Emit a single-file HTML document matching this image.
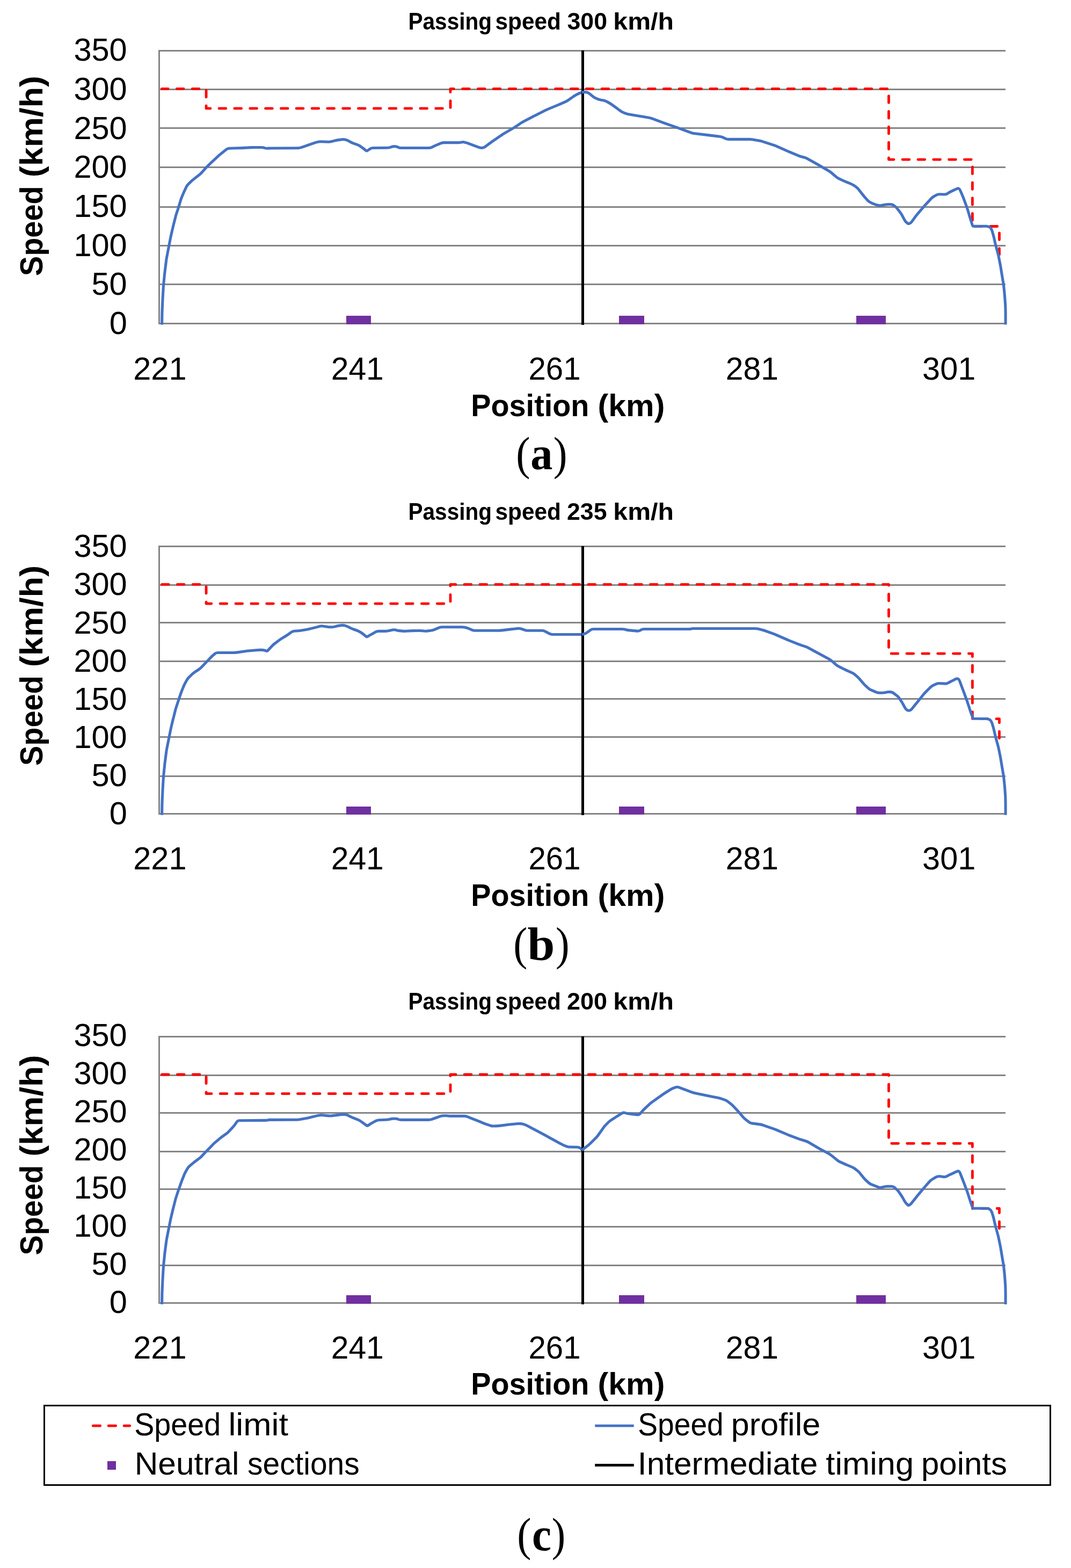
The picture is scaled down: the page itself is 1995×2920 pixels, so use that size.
<!DOCTYPE html>
<html lang="en"><head><meta charset="utf-8"><title>Speed profiles for different passing speeds</title>
<style>
html,body{margin:0;padding:0;background:#fff;}
body{width:1995px;height:2920px;overflow:hidden;}
svg{display:block;}
rect{shape-rendering:crispEdges;}
text{fill:#000;}
</style></head><body>
<svg width="1995" height="2920" viewBox="0 0 1995 2920">
<rect width="1995" height="2920" fill="#fff"/>
<rect x="295" y="93" width="1578" height="3" fill="#858585"/>
<rect x="295" y="165" width="1578" height="3" fill="#858585"/>
<rect x="295" y="237" width="1578" height="3" fill="#858585"/>
<rect x="295" y="310" width="1578" height="3" fill="#858585"/>
<rect x="295" y="384" width="1578" height="3" fill="#858585"/>
<rect x="295" y="456" width="1578" height="3" fill="#858585"/>
<rect x="295" y="528" width="1578" height="3" fill="#858585"/>
<rect x="295" y="601" width="1578" height="3" fill="#858585"/>
<rect x="295" y="93" width="3" height="511" fill="#858585"/>
<rect x="645" y="588" width="46" height="16" fill="#7030A0"/>
<rect x="1153" y="588" width="47" height="16" fill="#7030A0"/>
<rect x="1595" y="588" width="55" height="16" fill="#7030A0"/>
<polyline points="301.5,165.3 384.1,165.3 384.1,201.9 839.0,201.9 839.0,165.3 1655.5,165.3 1655.5,297.1 1811.4,297.1 1811.4,421.5 1861.5,421.5 1861.5,474.1" fill="none" stroke="#FF0000" stroke-width="4.8" stroke-dasharray="12.7 16.13" stroke-dashoffset="1" stroke-linecap="round" stroke-linejoin="round"/>
<path d="M301.6 604.6L301.9 584.9Q302.0 581.9 302.1 578.9L302.9 559.7Q303.0 556.7 303.2 553.7L304.3 534.5Q304.5 531.5 304.8 528.5L306.7 509.3Q307.0 506.3 307.4 503.3L309.8 484.1Q310.2 481.1 310.8 478.2L314.2 460.4Q314.8 457.5 315.4 454.6L317.7 442.5Q318.3 439.6 319.0 436.7L322.0 423.6Q322.7 420.7 323.4 417.8L327.1 403.4Q327.8 400.5 328.7 397.7L331.9 388.2Q332.8 385.4 333.7 382.5L336.4 373.2Q337.3 370.3 338.4 367.5L341.5 360.3Q342.6 357.5 343.9 354.8L347.3 347.7Q348.6 345.0 350.8 342.9L356.8 337.1Q359.0 335.0 361.4 333.2L370.7 326.0Q373.1 324.2 375.1 322.0L382.5 313.7Q384.5 311.5 386.7 309.4L393.6 302.7Q395.8 300.6 398.0 298.6L406.8 290.3Q409.0 288.3 411.4 286.4L421.7 278.3Q424.1 276.4 427.1 276.3L443.8 275.8Q446.8 275.7 449.8 275.6L468.4 274.6Q471.4 274.5 474.4 274.5L487.3 274.5Q490.3 274.5 492.4 275.4L492.9 275.5Q495.0 276.4 498.0 276.3L500.5 276.1Q503.5 276.0 506.5 276.0L555.3 275.7Q558.3 275.7 561.1 274.7L570.6 271.4Q573.4 270.4 576.2 269.4L587.2 265.7Q590.0 264.7 592.6 264.2L593.1 264.1Q595.7 263.7 598.7 263.8L611.6 264.2Q614.6 264.3 617.5 263.5L623.0 262.1Q625.9 261.3 628.9 260.9L637.1 259.8Q640.1 259.4 643.0 260.1L643.8 260.2Q646.7 260.9 649.3 262.4L653.5 264.7Q656.1 266.2 658.9 267.1L664.7 269.1Q667.5 270.0 670.0 271.7L672.5 273.4Q675.0 275.1 677.4 276.9L681.9 280.4Q683.1 281.3 684.4 280.5L689.5 277.1Q692.0 275.5 695.0 275.5L721.1 275.3Q724.1 275.3 726.9 274.3L728.9 273.6Q731.7 272.6 734.7 272.6L735.3 272.6Q738.3 272.6 740.9 273.9L741.4 274.2Q744.0 275.5 747.0 275.5L799.5 275.5Q802.5 275.5 805.1 274.1L808.4 272.3Q811.0 270.9 813.8 269.8L821.5 266.7Q824.3 265.6 827.3 265.6L853.4 265.6Q856.4 265.6 858.9 265.0L859.5 264.9Q862.0 264.3 864.6 264.8L865.1 264.9Q867.7 265.3 870.5 266.4L887.2 272.7Q890.0 273.8 892.6 274.6L893.1 274.7Q895.7 275.5 898.2 275.3L898.8 275.3Q901.3 275.1 903.7 273.3L912.2 266.9Q914.6 265.1 917.1 263.4L934.7 251.3Q937.2 249.6 939.8 248.1L957.3 237.9Q959.9 236.4 962.4 234.7L970.6 229.0Q973.1 227.3 975.8 225.9L991.2 217.9Q993.9 216.5 996.6 215.2L1015.8 205.5Q1018.5 204.2 1021.3 203.0L1038.3 196.0Q1041.1 194.8 1043.9 193.6L1053.5 189.4Q1056.3 188.2 1058.7 186.4L1067.1 180.5Q1069.5 178.7 1072.1 177.3L1076.3 175.0Q1078.9 173.6 1081.8 172.7L1085.5 171.6" fill="none" stroke="#4472C4" stroke-width="5.1" stroke-linejoin="round" stroke-linecap="butt"/>
<rect x="1083" y="94" width="5" height="511" fill="#000"/>
<path d="M1083.9 171.6L1091.0 171.6Q1094.0 171.6 1096.4 173.4L1097.3 174.1Q1099.7 175.9 1102.1 177.8L1104.9 180.0Q1107.3 181.9 1110.1 183.0L1113.9 184.6Q1116.7 185.7 1119.7 186.2L1123.2 186.7Q1126.2 187.2 1128.9 188.6L1132.9 190.6Q1135.6 192.0 1138.0 193.7L1146.4 199.7Q1148.8 201.4 1151.2 203.2L1155.9 206.6Q1158.3 208.4 1161.1 209.5L1164.9 211.1Q1167.7 212.2 1170.7 212.7L1187.0 215.5Q1190.0 216.0 1193.0 216.5L1207.8 218.9Q1210.8 219.4 1213.6 220.4L1234.4 228.2Q1237.2 229.2 1240.0 230.2L1262.8 238.2Q1265.6 239.2 1268.4 240.2L1287.3 247.1Q1290.1 248.1 1293.1 248.5L1319.2 251.6Q1322.2 252.0 1325.2 252.4L1341.0 254.3Q1344.0 254.7 1346.7 255.9L1351.7 258.2Q1354.4 259.4 1357.4 259.4L1396.7 259.4Q1399.7 259.4 1402.7 259.9L1415.6 262.3Q1418.6 262.8 1421.4 263.8L1442.3 270.7Q1445.1 271.7 1447.8 272.9L1465.0 280.5Q1467.7 281.7 1470.5 282.9L1487.2 289.9Q1490.0 291.1 1492.9 291.8L1498.4 293.3Q1501.3 294.0 1503.9 295.5L1521.4 305.3Q1524.0 306.8 1526.6 308.3L1544.1 318.5Q1546.7 320.0 1549.0 322.0L1557.6 329.4Q1559.9 331.4 1562.6 332.6L1570.4 336.2Q1573.1 337.4 1575.9 338.6L1585.4 342.5Q1588.2 343.7 1590.7 345.4L1593.3 347.1Q1595.8 348.8 1597.4 350.6L1597.8 350.9Q1599.4 352.7 1601.2 355.1L1607.1 362.6Q1608.9 365.0 1610.9 367.2L1616.3 373.2Q1618.3 375.4 1621.0 376.7L1625.1 378.8Q1627.8 380.1 1630.7 380.9L1635.3 382.2Q1638.2 383.0 1641.2 382.5L1649.3 381.0Q1652.3 380.5 1655.3 380.5L1658.8 380.5Q1661.8 380.5 1664.3 382.2L1666.9 384.1Q1669.4 385.8 1671.2 388.2L1677.0 395.7Q1678.8 398.1 1680.2 400.7L1685.0 409.7Q1686.4 412.3 1688.7 414.2L1690.9 416.0Q1692.0 417.0 1693.4 416.4L1694.6 416.0Q1696.7 415.1 1698.5 412.7L1705.3 403.3Q1707.1 400.9 1709.0 398.6L1720.4 385.3Q1722.3 383.0 1724.4 380.8L1735.3 369.1Q1737.4 366.9 1740.0 365.5L1744.2 363.2Q1746.8 361.8 1749.8 361.8L1751.4 361.8Q1754.4 361.8 1757.4 362.0L1758.9 362.0Q1761.9 362.2 1764.5 360.7L1768.8 358.0Q1771.4 356.5 1774.1 355.3L1781.9 351.7Q1784.6 350.5 1785.9 351.1L1786.1 351.2Q1787.4 351.8 1788.6 354.5L1792.8 364.2Q1794.0 366.9 1795.0 369.7L1800.6 384.9Q1801.6 387.7 1802.5 390.6L1806.4 403.7Q1807.3 406.6 1808.2 409.5L1811.5 419.9Q1812.0 421.3 1813.5 421.3L1836.4 421.3Q1839.4 421.3 1841.7 422.2L1842.2 422.3Q1844.5 423.2 1845.9 425.4L1846.2 425.9Q1847.6 428.2 1848.4 431.1L1850.0 436.7Q1850.8 439.6 1851.5 442.5L1853.8 453.0Q1854.5 455.9 1855.3 458.8L1858.8 471.9Q1859.6 474.8 1860.2 477.7L1862.8 490.8Q1863.4 493.7 1863.9 496.7L1866.6 513.4Q1867.1 516.4 1867.6 519.4L1869.1 528.5Q1869.6 531.5 1869.9 534.5L1871.2 547.4Q1871.5 550.4 1871.7 553.4L1872.6 566.3Q1872.8 569.3 1872.9 572.3L1873.0 578.9Q1873.1 581.9 1873.1 584.9L1873.1 604.6" fill="none" stroke="#4472C4" stroke-width="5.1" stroke-linejoin="round" stroke-linecap="butt"/>
<text y="54.70" font-family="'Liberation Sans', sans-serif" font-size="45" font-weight="bold"><tspan x="760.46" textLength="155.58" lengthAdjust="spacingAndGlyphs">Passing</tspan> <tspan x="922.52" textLength="122.44" lengthAdjust="spacingAndGlyphs">speed</tspan> <tspan x="1056.48" textLength="74.54" lengthAdjust="spacingAndGlyphs">300</tspan> <tspan x="1142.32" textLength="112.62" lengthAdjust="spacingAndGlyphs">km/h</tspan></text>
<text y="113.10" font-family="'Liberation Sans', sans-serif" font-size="59.5" font-weight="normal"><tspan x="137.42" textLength="99.28" lengthAdjust="spacingAndGlyphs">350</tspan></text>
<text y="185.83" font-family="'Liberation Sans', sans-serif" font-size="59.5" font-weight="normal"><tspan x="137.42" textLength="99.28" lengthAdjust="spacingAndGlyphs">300</tspan></text>
<text y="258.56" font-family="'Liberation Sans', sans-serif" font-size="59.5" font-weight="normal"><tspan x="137.42" textLength="99.28" lengthAdjust="spacingAndGlyphs">250</tspan></text>
<text y="331.29" font-family="'Liberation Sans', sans-serif" font-size="59.5" font-weight="normal"><tspan x="137.42" textLength="99.28" lengthAdjust="spacingAndGlyphs">200</tspan></text>
<text y="404.01" font-family="'Liberation Sans', sans-serif" font-size="59.5" font-weight="normal"><tspan x="137.41" textLength="99.28" lengthAdjust="spacingAndGlyphs">150</tspan></text>
<text y="476.74" font-family="'Liberation Sans', sans-serif" font-size="59.5" font-weight="normal"><tspan x="137.41" textLength="99.28" lengthAdjust="spacingAndGlyphs">100</tspan></text>
<text y="549.47" font-family="'Liberation Sans', sans-serif" font-size="59.5" font-weight="normal"><tspan x="170.44" textLength="66.18" lengthAdjust="spacingAndGlyphs">50</tspan></text>
<text y="622.20" font-family="'Liberation Sans', sans-serif" font-size="59.5" font-weight="normal"><tspan x="203.76" textLength="33.09" lengthAdjust="spacingAndGlyphs">0</tspan></text>
<text y="707.30" font-family="'Liberation Sans', sans-serif" font-size="59.5" font-weight="normal"><tspan x="248.22" textLength="99.37" lengthAdjust="spacingAndGlyphs">221</tspan></text>
<text y="707.30" font-family="'Liberation Sans', sans-serif" font-size="59.5" font-weight="normal"><tspan x="616.66" textLength="98.20" lengthAdjust="spacingAndGlyphs">241</tspan></text>
<text y="707.30" font-family="'Liberation Sans', sans-serif" font-size="59.5" font-weight="normal"><tspan x="984.49" textLength="97.14" lengthAdjust="spacingAndGlyphs">261</tspan></text>
<text y="707.30" font-family="'Liberation Sans', sans-serif" font-size="59.5" font-weight="normal"><tspan x="1351.85" textLength="98.30" lengthAdjust="spacingAndGlyphs">281</tspan></text>
<text y="707.30" font-family="'Liberation Sans', sans-serif" font-size="59.5" font-weight="normal"><tspan x="1718.12" textLength="99.27" lengthAdjust="spacingAndGlyphs">301</tspan></text>
<text transform="translate(79.00 0) rotate(-90)" y="0" font-family="'Liberation Sans', sans-serif" font-size="58.5" font-weight="bold"><tspan x="-514.08" textLength="167.77" lengthAdjust="spacingAndGlyphs">Speed</tspan> <tspan x="-330.26" textLength="189.31" lengthAdjust="spacingAndGlyphs">(km/h)</tspan></text>
<text y="774.90" font-family="'Liberation Sans', sans-serif" font-size="58" font-weight="bold"><tspan x="877.17" textLength="220.35" lengthAdjust="spacingAndGlyphs">Position</tspan> <tspan x="1113.54" textLength="124.89" lengthAdjust="spacingAndGlyphs">(km)</tspan></text>
<text y="873.90" font-family="'Liberation Serif', serif" font-size="86"><tspan x="961.25" textLength="26.25" lengthAdjust="spacingAndGlyphs" font-weight="normal">(</tspan><tspan x="988.23" textLength="41.21" lengthAdjust="spacingAndGlyphs" font-weight="bold">a</tspan><tspan x="1030.68" textLength="25.75" lengthAdjust="spacingAndGlyphs" font-weight="normal">)</tspan></text>
<rect x="295" y="1016" width="1578" height="3" fill="#858585"/>
<rect x="295" y="1088" width="1578" height="3" fill="#858585"/>
<rect x="295" y="1158" width="1578" height="3" fill="#858585"/>
<rect x="295" y="1230" width="1578" height="3" fill="#858585"/>
<rect x="295" y="1300" width="1578" height="3" fill="#858585"/>
<rect x="295" y="1371" width="1578" height="3" fill="#858585"/>
<rect x="295" y="1444" width="1578" height="3" fill="#858585"/>
<rect x="295" y="1514" width="1578" height="3" fill="#858585"/>
<rect x="295" y="1016" width="3" height="501" fill="#858585"/>
<rect x="645" y="1502" width="46" height="15" fill="#7030A0"/>
<rect x="1153" y="1502" width="47" height="15" fill="#7030A0"/>
<rect x="1595" y="1502" width="55" height="15" fill="#7030A0"/>
<polyline points="301.5,1088.3 384.1,1088.3 384.1,1124.1 839.0,1124.1 839.0,1088.3 1655.5,1088.3 1655.5,1217.1 1811.4,1217.1 1811.4,1338.7 1861.5,1338.7 1861.5,1384.5" fill="none" stroke="#FF0000" stroke-width="4.8" stroke-dasharray="12.7 16.17" stroke-dashoffset="0" stroke-linecap="round" stroke-linejoin="round"/>
<path d="M301.6 1517.8L301.9 1498.6Q302.0 1495.6 302.1 1492.6L302.9 1474.0Q303.0 1471.0 303.2 1468.0L304.3 1449.3Q304.5 1446.3 304.8 1443.3L306.7 1424.7Q307.0 1421.7 307.4 1418.7L309.8 1400.0Q310.2 1397.0 310.8 1394.1L314.2 1376.9Q314.8 1374.0 315.4 1371.0L317.7 1359.4Q318.3 1356.5 319.0 1353.5L322.0 1340.9Q322.7 1338.0 323.5 1335.1L327.0 1321.1Q327.8 1318.2 328.8 1315.4L331.8 1306.3Q332.8 1303.5 333.7 1300.6L336.3 1292.9Q337.2 1290.1 338.3 1287.3L341.8 1278.7Q342.9 1275.9 344.3 1273.3L348.1 1266.3Q349.5 1263.7 351.7 1261.6L357.7 1255.7Q359.9 1253.6 362.4 1251.9L370.6 1246.5Q373.1 1244.8 375.2 1242.6L382.4 1235.1Q384.5 1232.9 386.6 1230.7L391.8 1225.2Q393.9 1223.0 396.1 1221.0L400.2 1217.5Q402.4 1215.5 405.4 1215.5L434.4 1215.5Q437.4 1215.5 440.4 1215.1L457.0 1212.7Q460.0 1212.3 463.0 1212.0L477.8 1210.7Q480.8 1210.4 483.8 1210.4L487.3 1210.4Q490.3 1210.4 493.2 1211.2L496.4 1212.2Q497.8 1212.6 498.8 1211.5L507.2 1202.6Q509.2 1200.4 511.6 1198.6L520.0 1192.3Q522.4 1190.5 525.0 1188.9L533.0 1184.0Q535.6 1182.4 538.0 1180.6L542.6 1177.2Q545.0 1175.4 548.0 1175.2L555.3 1174.7Q558.3 1174.5 561.3 1174.0L570.4 1172.5Q573.4 1172.0 576.3 1171.3L587.1 1168.6Q590.0 1167.9 592.9 1167.1L595.6 1166.2Q598.5 1165.4 601.4 1166.0L607.9 1167.1Q610.8 1167.7 613.8 1167.7L619.1 1167.7Q622.1 1167.7 624.9 1166.7L625.9 1166.4Q628.7 1165.4 631.7 1165.1L637.1 1164.4Q640.1 1164.1 642.9 1165.1L643.9 1165.4Q646.7 1166.4 649.4 1167.7L653.4 1169.8Q656.1 1171.1 658.9 1172.0L664.7 1174.0Q667.5 1174.9 670.0 1176.5L672.5 1178.0Q675.0 1179.6 677.3 1181.5L681.9 1185.3Q683.1 1186.2 684.4 1185.5L689.4 1182.6Q692.0 1181.1 694.6 1179.7L699.8 1176.8Q702.4 1175.4 705.4 1175.4L717.4 1175.4Q720.4 1175.4 723.3 1174.8L731.6 1173.0Q734.5 1172.4 737.4 1173.2L738.2 1173.5Q741.1 1174.3 744.1 1174.6L749.5 1175.1Q752.5 1175.4 755.5 1175.3L768.4 1174.6Q771.4 1174.5 774.4 1174.5L783.5 1174.5Q786.5 1174.5 789.1 1174.9L789.6 1175.0Q792.2 1175.4 795.2 1175.1L802.4 1174.2Q805.4 1173.9 808.2 1172.8L817.7 1168.8Q820.5 1167.7 823.5 1167.7L861.0 1167.7Q864.0 1167.7 866.9 1168.5L868.6 1169.0Q871.5 1169.8 874.3 1171.0L879.1 1173.1Q881.9 1174.3 884.9 1174.3L887.0 1174.3Q890.0 1174.3 893.0 1174.3L928.6 1174.3Q931.6 1174.3 934.6 1173.9L951.2 1171.9Q954.2 1171.5 957.2 1171.2L964.5 1170.4Q967.5 1170.1 970.0 1170.7L970.6 1170.9Q973.1 1171.5 975.9 1172.7L976.9 1173.1Q979.7 1174.3 982.7 1174.3L1009.8 1174.3Q1012.8 1174.3 1015.4 1175.7L1023.4 1180.1Q1026.0 1181.5 1029.0 1181.5L1085.5 1181.5" fill="none" stroke="#4472C4" stroke-width="5.1" stroke-linejoin="round" stroke-linecap="butt"/>
<rect x="1083" y="1017" width="5" height="501" fill="#000"/>
<path d="M1083.9 1181.5L1087.4 1180.7Q1090.3 1180.1 1092.8 1178.4L1100.0 1173.2Q1102.5 1171.5 1105.5 1171.5L1159.1 1171.5Q1162.1 1171.5 1164.6 1172.3L1165.2 1172.5Q1167.7 1173.3 1170.7 1173.6L1187.0 1175.1Q1190.0 1175.4 1192.6 1173.9L1194.0 1173.0Q1196.6 1171.5 1199.6 1171.5L1283.4 1171.5Q1286.4 1171.5 1287.2 1171.0L1287.4 1171.0Q1288.2 1170.5 1291.2 1170.5L1406.2 1170.5Q1409.2 1170.5 1412.1 1171.1L1417.6 1172.4Q1420.5 1173.0 1423.3 1174.0L1440.4 1180.1Q1443.2 1181.1 1445.9 1182.3L1465.0 1190.7Q1467.7 1191.9 1470.5 1193.0L1487.2 1199.6Q1490.0 1200.7 1492.8 1201.6L1500.4 1204.2Q1503.2 1205.1 1505.8 1206.5L1521.4 1215.0Q1524.0 1216.4 1526.6 1217.8L1544.1 1227.3Q1546.7 1228.7 1549.0 1230.7L1557.6 1238.0Q1559.9 1240.0 1562.6 1241.3L1570.4 1245.3Q1573.1 1246.6 1575.8 1247.8L1587.4 1253.0Q1590.1 1254.2 1592.3 1256.2L1597.4 1260.7Q1599.6 1262.7 1601.6 1265.0L1608.8 1273.3Q1610.8 1275.6 1613.0 1277.6L1618.0 1282.1Q1620.2 1284.1 1623.0 1285.2L1632.5 1289.2Q1635.3 1290.3 1638.3 1290.3L1643.7 1290.3Q1646.7 1290.3 1649.6 1289.6L1651.3 1289.1Q1654.2 1288.4 1657.2 1288.6L1658.8 1288.6Q1661.8 1288.8 1664.2 1290.6L1670.7 1295.5Q1673.1 1297.3 1674.8 1299.8L1679.0 1306.1Q1680.7 1308.6 1682.1 1311.2L1685.9 1318.3Q1687.3 1320.9 1689.4 1322.2L1689.9 1322.4Q1692.0 1323.7 1694.1 1323.1L1694.6 1323.0Q1696.7 1322.4 1698.6 1320.1L1705.2 1311.9Q1707.1 1309.6 1709.0 1307.3L1720.4 1293.0Q1722.3 1290.7 1724.4 1288.6L1733.4 1279.6Q1735.5 1277.5 1738.2 1276.3L1744.1 1273.6Q1746.8 1272.4 1749.8 1272.5L1751.4 1272.6Q1754.4 1272.7 1757.4 1272.9L1759.9 1273.1Q1762.9 1273.3 1765.6 1271.9L1770.6 1269.4Q1773.3 1268.0 1776.0 1266.7L1780.0 1264.6Q1782.7 1263.3 1784.4 1264.2L1784.8 1264.3Q1786.5 1265.2 1787.5 1268.0L1792.1 1280.3Q1793.1 1283.1 1794.2 1285.9L1800.5 1303.0Q1801.6 1305.8 1802.5 1308.7L1806.4 1320.8Q1807.3 1323.7 1808.3 1326.5L1812.1 1336.9Q1812.6 1338.3 1814.1 1338.3L1836.4 1338.5Q1839.4 1338.6 1841.7 1339.4L1842.2 1339.6Q1844.5 1340.4 1845.9 1342.6L1846.2 1343.1Q1847.6 1345.3 1848.4 1348.2L1850.0 1353.6Q1850.8 1356.5 1851.5 1359.4L1853.8 1369.5Q1854.5 1372.4 1855.3 1375.3L1858.8 1388.0Q1859.6 1390.9 1860.2 1393.8L1862.8 1406.4Q1863.4 1409.4 1863.9 1412.3L1866.6 1428.6Q1867.1 1431.6 1867.6 1434.5L1869.1 1443.4Q1869.6 1446.3 1869.9 1449.3L1871.2 1461.8Q1871.5 1464.8 1871.7 1467.8L1872.6 1480.3Q1872.8 1483.3 1872.9 1486.3L1873.0 1492.6Q1873.1 1495.6 1873.1 1498.6L1873.1 1517.8" fill="none" stroke="#4472C4" stroke-width="5.1" stroke-linejoin="round" stroke-linecap="butt"/>
<text y="967.80" font-family="'Liberation Sans', sans-serif" font-size="45" font-weight="bold"><tspan x="760.46" textLength="155.58" lengthAdjust="spacingAndGlyphs">Passing</tspan> <tspan x="922.52" textLength="122.44" lengthAdjust="spacingAndGlyphs">speed</tspan> <tspan x="1056.04" textLength="74.54" lengthAdjust="spacingAndGlyphs">235</tspan> <tspan x="1142.32" textLength="112.62" lengthAdjust="spacingAndGlyphs">km/h</tspan></text>
<text y="1037.30" font-family="'Liberation Sans', sans-serif" font-size="59.5" font-weight="normal"><tspan x="137.42" textLength="99.28" lengthAdjust="spacingAndGlyphs">350</tspan></text>
<text y="1108.43" font-family="'Liberation Sans', sans-serif" font-size="59.5" font-weight="normal"><tspan x="137.42" textLength="99.28" lengthAdjust="spacingAndGlyphs">300</tspan></text>
<text y="1179.56" font-family="'Liberation Sans', sans-serif" font-size="59.5" font-weight="normal"><tspan x="137.42" textLength="99.28" lengthAdjust="spacingAndGlyphs">250</tspan></text>
<text y="1250.69" font-family="'Liberation Sans', sans-serif" font-size="59.5" font-weight="normal"><tspan x="137.42" textLength="99.28" lengthAdjust="spacingAndGlyphs">200</tspan></text>
<text y="1321.81" font-family="'Liberation Sans', sans-serif" font-size="59.5" font-weight="normal"><tspan x="137.41" textLength="99.28" lengthAdjust="spacingAndGlyphs">150</tspan></text>
<text y="1392.94" font-family="'Liberation Sans', sans-serif" font-size="59.5" font-weight="normal"><tspan x="137.41" textLength="99.28" lengthAdjust="spacingAndGlyphs">100</tspan></text>
<text y="1464.07" font-family="'Liberation Sans', sans-serif" font-size="59.5" font-weight="normal"><tspan x="170.44" textLength="66.18" lengthAdjust="spacingAndGlyphs">50</tspan></text>
<text y="1535.20" font-family="'Liberation Sans', sans-serif" font-size="59.5" font-weight="normal"><tspan x="203.76" textLength="33.09" lengthAdjust="spacingAndGlyphs">0</tspan></text>
<text y="1619.30" font-family="'Liberation Sans', sans-serif" font-size="59.5" font-weight="normal"><tspan x="248.22" textLength="99.37" lengthAdjust="spacingAndGlyphs">221</tspan></text>
<text y="1619.30" font-family="'Liberation Sans', sans-serif" font-size="59.5" font-weight="normal"><tspan x="616.66" textLength="98.20" lengthAdjust="spacingAndGlyphs">241</tspan></text>
<text y="1619.30" font-family="'Liberation Sans', sans-serif" font-size="59.5" font-weight="normal"><tspan x="984.49" textLength="97.14" lengthAdjust="spacingAndGlyphs">261</tspan></text>
<text y="1619.30" font-family="'Liberation Sans', sans-serif" font-size="59.5" font-weight="normal"><tspan x="1351.85" textLength="98.30" lengthAdjust="spacingAndGlyphs">281</tspan></text>
<text y="1619.30" font-family="'Liberation Sans', sans-serif" font-size="59.5" font-weight="normal"><tspan x="1718.12" textLength="99.27" lengthAdjust="spacingAndGlyphs">301</tspan></text>
<text transform="translate(79.00 0) rotate(-90)" y="0" font-family="'Liberation Sans', sans-serif" font-size="58.5" font-weight="bold"><tspan x="-1425.98" textLength="167.77" lengthAdjust="spacingAndGlyphs">Speed</tspan> <tspan x="-1242.16" textLength="189.31" lengthAdjust="spacingAndGlyphs">(km/h)</tspan></text>
<text y="1687.10" font-family="'Liberation Sans', sans-serif" font-size="58" font-weight="bold"><tspan x="877.17" textLength="220.35" lengthAdjust="spacingAndGlyphs">Position</tspan> <tspan x="1113.54" textLength="124.89" lengthAdjust="spacingAndGlyphs">(km)</tspan></text>
<text y="1787.00" font-family="'Liberation Serif', serif" font-size="86"><tspan x="956.37" textLength="26.12" lengthAdjust="spacingAndGlyphs" font-weight="normal">(</tspan><tspan x="982.43" textLength="50.83" lengthAdjust="spacingAndGlyphs" font-weight="bold">b</tspan><tspan x="1034.89" textLength="25.62" lengthAdjust="spacingAndGlyphs" font-weight="normal">)</tspan></text>
<rect x="295" y="1929" width="1578" height="3" fill="#858585"/>
<rect x="295" y="2001" width="1578" height="3" fill="#858585"/>
<rect x="295" y="2071" width="1578" height="3" fill="#858585"/>
<rect x="295" y="2143" width="1578" height="3" fill="#858585"/>
<rect x="295" y="2213" width="1578" height="3" fill="#858585"/>
<rect x="295" y="2283" width="1578" height="3" fill="#858585"/>
<rect x="295" y="2355" width="1578" height="3" fill="#858585"/>
<rect x="295" y="2425" width="1578" height="3" fill="#858585"/>
<rect x="295" y="1929" width="3" height="499" fill="#858585"/>
<rect x="645" y="2412" width="46" height="16" fill="#7030A0"/>
<rect x="1153" y="2412" width="47" height="16" fill="#7030A0"/>
<rect x="1595" y="2412" width="55" height="16" fill="#7030A0"/>
<polyline points="301.5,2001.0 384.1,2001.0 384.1,2036.7 839.0,2036.7 839.0,2001.0 1655.5,2001.0 1655.5,2129.3 1811.4,2129.3 1811.4,2250.5 1861.5,2250.5 1861.5,2296.1" fill="none" stroke="#FF0000" stroke-width="4.8" stroke-dasharray="12.7 16.17" stroke-dashoffset="0" stroke-linecap="round" stroke-linejoin="round"/>
<path d="M301.6 2428.9L301.9 2409.8Q302.0 2406.8 302.1 2403.8L302.9 2385.2Q303.0 2382.2 303.2 2379.2L304.3 2360.7Q304.5 2357.7 304.8 2354.7L306.7 2336.1Q307.0 2333.1 307.4 2330.2L309.8 2311.6Q310.2 2308.6 310.8 2305.7L314.2 2288.6Q314.8 2285.6 315.4 2282.7L317.7 2271.1Q318.3 2268.2 319.0 2265.3L322.0 2252.7Q322.7 2249.8 323.5 2246.9L327.0 2233.0Q327.8 2230.1 328.8 2227.3L331.8 2218.2Q332.8 2215.4 333.8 2212.6L337.2 2202.9Q338.2 2200.1 339.3 2197.3L342.7 2188.7Q343.8 2185.9 345.2 2183.3L349.1 2176.3Q350.5 2173.7 352.8 2171.8L359.5 2166.1Q361.8 2164.2 364.2 2162.4L370.7 2157.5Q373.1 2155.7 375.2 2153.6L382.4 2146.1Q384.5 2144.0 386.6 2141.8L395.6 2132.4Q397.7 2130.2 400.0 2128.2L408.6 2120.9Q410.9 2118.9 413.3 2117.1L421.7 2111.2Q424.1 2109.4 426.1 2107.2L433.5 2099.3Q435.5 2097.1 437.3 2094.7L441.2 2089.1Q443.0 2086.7 446.0 2086.7L494.8 2086.4Q497.8 2086.4 498.7 2086.0L498.8 2085.8Q499.7 2085.4 502.7 2085.4L553.4 2085.2Q556.4 2085.2 559.3 2084.6L570.5 2082.6Q573.4 2082.0 576.3 2081.3L587.1 2078.6Q590.0 2077.9 592.9 2077.3L594.7 2077.0Q597.6 2076.4 600.6 2076.7L611.6 2077.9Q614.6 2078.2 617.6 2077.9L624.8 2077.0Q627.8 2076.7 630.8 2076.3L634.2 2075.8Q637.2 2075.4 640.2 2075.4L641.8 2075.4Q644.8 2075.4 647.5 2076.8L653.4 2079.7Q656.1 2081.1 658.9 2082.2L666.6 2085.1Q669.4 2086.2 671.8 2088.0L682.9 2095.9Q684.1 2096.8 685.4 2096.0L691.4 2092.1Q693.9 2090.5 696.6 2089.2L700.7 2087.1Q703.4 2085.8 706.4 2085.7L719.3 2085.3Q722.3 2085.2 725.2 2084.5L726.9 2084.0Q729.8 2083.3 732.8 2083.3L736.3 2083.3Q739.3 2083.3 741.4 2084.2L741.9 2084.5Q744.0 2085.4 747.0 2085.4L798.6 2085.4Q801.6 2085.4 804.4 2084.4L808.2 2083.0Q811.0 2082.0 813.8 2081.0L820.5 2078.7Q823.3 2077.7 826.3 2077.7L830.7 2077.7Q833.7 2077.7 834.6 2078.0L834.7 2078.1Q835.6 2078.4 838.6 2078.4L864.7 2078.4Q867.7 2078.4 870.5 2079.5L876.3 2081.9Q879.1 2083.0 881.9 2084.1L887.2 2086.2Q890.0 2087.3 892.8 2088.4L902.3 2092.3Q905.1 2093.4 908.0 2094.3L913.6 2096.2Q916.5 2097.1 919.5 2097.0L924.8 2096.9Q927.8 2096.8 930.8 2096.4L943.7 2094.7Q946.7 2094.3 949.7 2094.0L962.6 2092.7Q965.6 2092.4 968.6 2092.6L970.1 2092.6Q973.1 2092.8 975.9 2093.8L976.9 2094.2Q979.7 2095.2 982.4 2096.6L993.1 2102.3Q995.8 2103.7 998.5 2105.1L1015.8 2114.3Q1018.5 2115.7 1021.1 2117.2L1038.5 2126.8Q1041.1 2128.3 1043.8 2129.6L1047.9 2131.7Q1050.6 2133.0 1053.4 2134.1L1055.3 2134.8Q1058.1 2135.9 1061.1 2136.0L1075.9 2136.3Q1078.9 2136.4 1081.2 2138.4L1085.5 2142.1" fill="none" stroke="#4472C4" stroke-width="5.1" stroke-linejoin="round" stroke-linecap="butt"/>
<rect x="1083" y="1930" width="5" height="499" fill="#000"/>
<path d="M1083.9 2142.1L1095.4 2133.0Q1097.8 2131.1 1099.9 2129.0L1110.8 2118.1Q1112.9 2116.0 1114.6 2113.5L1124.5 2099.6Q1126.2 2097.1 1128.3 2095.0L1133.5 2089.8Q1135.6 2087.7 1138.1 2086.1L1146.3 2080.8Q1148.8 2079.2 1151.4 2077.6L1158.5 2073.2Q1161.1 2071.6 1164.0 2072.4L1166.7 2073.1Q1169.6 2073.9 1172.6 2074.3L1187.0 2076.0Q1190.0 2076.4 1192.0 2074.2L1197.4 2068.2Q1199.4 2066.0 1201.6 2064.0L1210.5 2055.7Q1212.7 2053.7 1215.1 2052.0L1232.9 2039.3Q1235.3 2037.6 1237.8 2036.0L1249.8 2028.5Q1252.3 2026.9 1255.2 2026.0L1258.9 2024.7Q1261.8 2023.8 1264.6 2024.9L1270.3 2027.1Q1273.1 2028.2 1275.9 2029.2L1289.2 2034.2Q1292.0 2035.2 1294.9 2035.8L1319.3 2040.8Q1322.2 2041.4 1325.1 2042.0L1338.2 2044.6Q1341.1 2045.2 1343.9 2046.1L1349.7 2048.1Q1352.5 2049.0 1354.9 2050.8L1361.4 2055.7Q1363.8 2057.5 1365.8 2059.7L1373.1 2067.5Q1375.1 2069.7 1377.1 2072.0L1384.5 2080.7Q1386.5 2083.0 1388.9 2084.8L1395.4 2089.7Q1397.8 2091.5 1400.8 2091.9L1415.6 2093.9Q1418.6 2094.3 1421.4 2095.3L1442.3 2102.7Q1445.1 2103.7 1447.9 2104.9L1464.9 2112.0Q1467.7 2113.2 1470.5 2114.3L1487.2 2120.6Q1490.0 2121.7 1492.9 2122.5L1500.3 2124.7Q1503.2 2125.5 1505.8 2127.0L1521.4 2136.3Q1524.0 2137.8 1526.6 2139.2L1544.1 2148.6Q1546.7 2150.0 1549.0 2151.9L1559.5 2160.4Q1561.8 2162.3 1564.5 2163.6L1572.3 2167.1Q1575.0 2168.4 1577.8 2169.5L1587.3 2173.5Q1590.1 2174.6 1592.5 2176.4L1597.0 2180.0Q1599.4 2181.8 1601.3 2184.1L1608.9 2193.7Q1610.8 2196.0 1613.0 2198.0L1618.0 2202.5Q1620.2 2204.5 1623.0 2205.6L1626.9 2207.1Q1629.7 2208.2 1632.5 2209.3L1636.3 2210.9Q1639.1 2212.0 1642.0 2211.3L1647.6 2209.9Q1650.5 2209.2 1653.5 2209.2L1660.7 2209.2Q1663.7 2209.2 1665.9 2211.2L1670.9 2215.7Q1673.1 2217.7 1674.8 2220.2L1679.0 2226.5Q1680.7 2229.0 1682.1 2231.6L1685.0 2236.8Q1686.4 2239.4 1688.5 2241.5L1690.9 2244.0Q1692.0 2245.1 1693.3 2244.3L1694.6 2243.6Q1696.7 2242.3 1698.5 2239.9L1705.3 2231.4Q1707.1 2229.0 1709.0 2226.7L1718.5 2215.3Q1720.4 2213.0 1722.4 2210.7L1731.6 2200.2Q1733.6 2197.9 1736.2 2196.4L1742.3 2192.7Q1744.9 2191.2 1747.5 2190.8L1748.0 2190.7Q1750.6 2190.3 1753.5 2190.9L1757.1 2191.6Q1760.0 2192.2 1762.7 2190.9L1768.7 2187.8Q1771.4 2186.5 1774.1 2185.3L1781.9 2181.7Q1784.6 2180.5 1785.9 2181.1L1786.1 2181.2Q1787.4 2181.8 1788.5 2184.6L1792.9 2196.0Q1794.0 2198.8 1795.1 2201.6L1800.5 2215.8Q1801.6 2218.6 1802.5 2221.5L1806.4 2233.7Q1807.3 2236.6 1808.3 2239.4L1811.5 2248.8Q1812.0 2250.2 1813.5 2250.2L1836.4 2250.3Q1839.4 2250.4 1841.7 2251.2L1842.2 2251.4Q1844.5 2252.2 1845.9 2254.4L1846.2 2254.9Q1847.6 2257.1 1848.4 2260.0L1850.0 2265.3Q1850.8 2268.2 1851.5 2271.1L1853.8 2281.1Q1854.5 2284.1 1855.3 2286.9L1858.8 2299.6Q1859.6 2302.5 1860.2 2305.4L1862.8 2317.9Q1863.4 2320.9 1863.9 2323.8L1866.6 2340.0Q1867.1 2343.0 1867.6 2345.9L1869.1 2354.7Q1869.6 2357.7 1869.9 2360.7L1871.2 2373.1Q1871.5 2376.1 1871.7 2379.1L1872.6 2391.5Q1872.8 2394.5 1872.9 2397.5L1873.0 2403.8Q1873.1 2406.8 1873.1 2409.8L1873.1 2428.9" fill="none" stroke="#4472C4" stroke-width="5.1" stroke-linejoin="round" stroke-linecap="butt"/>
<text y="1879.80" font-family="'Liberation Sans', sans-serif" font-size="45" font-weight="bold"><tspan x="760.46" textLength="155.58" lengthAdjust="spacingAndGlyphs">Passing</tspan> <tspan x="922.52" textLength="122.44" lengthAdjust="spacingAndGlyphs">speed</tspan> <tspan x="1056.03" textLength="75.00" lengthAdjust="spacingAndGlyphs">200</tspan> <tspan x="1142.32" textLength="112.62" lengthAdjust="spacingAndGlyphs">km/h</tspan></text>
<text y="1948.00" font-family="'Liberation Sans', sans-serif" font-size="59.5" font-weight="normal"><tspan x="137.42" textLength="99.28" lengthAdjust="spacingAndGlyphs">350</tspan></text>
<text y="2019.03" font-family="'Liberation Sans', sans-serif" font-size="59.5" font-weight="normal"><tspan x="137.42" textLength="99.28" lengthAdjust="spacingAndGlyphs">300</tspan></text>
<text y="2090.06" font-family="'Liberation Sans', sans-serif" font-size="59.5" font-weight="normal"><tspan x="137.42" textLength="99.28" lengthAdjust="spacingAndGlyphs">250</tspan></text>
<text y="2161.09" font-family="'Liberation Sans', sans-serif" font-size="59.5" font-weight="normal"><tspan x="137.42" textLength="99.28" lengthAdjust="spacingAndGlyphs">200</tspan></text>
<text y="2232.11" font-family="'Liberation Sans', sans-serif" font-size="59.5" font-weight="normal"><tspan x="137.41" textLength="99.28" lengthAdjust="spacingAndGlyphs">150</tspan></text>
<text y="2303.14" font-family="'Liberation Sans', sans-serif" font-size="59.5" font-weight="normal"><tspan x="137.41" textLength="99.28" lengthAdjust="spacingAndGlyphs">100</tspan></text>
<text y="2374.17" font-family="'Liberation Sans', sans-serif" font-size="59.5" font-weight="normal"><tspan x="170.44" textLength="66.18" lengthAdjust="spacingAndGlyphs">50</tspan></text>
<text y="2445.20" font-family="'Liberation Sans', sans-serif" font-size="59.5" font-weight="normal"><tspan x="203.76" textLength="33.09" lengthAdjust="spacingAndGlyphs">0</tspan></text>
<text y="2530.10" font-family="'Liberation Sans', sans-serif" font-size="59.5" font-weight="normal"><tspan x="248.22" textLength="99.37" lengthAdjust="spacingAndGlyphs">221</tspan></text>
<text y="2530.10" font-family="'Liberation Sans', sans-serif" font-size="59.5" font-weight="normal"><tspan x="616.66" textLength="98.20" lengthAdjust="spacingAndGlyphs">241</tspan></text>
<text y="2530.10" font-family="'Liberation Sans', sans-serif" font-size="59.5" font-weight="normal"><tspan x="984.49" textLength="97.14" lengthAdjust="spacingAndGlyphs">261</tspan></text>
<text y="2530.10" font-family="'Liberation Sans', sans-serif" font-size="59.5" font-weight="normal"><tspan x="1351.85" textLength="98.30" lengthAdjust="spacingAndGlyphs">281</tspan></text>
<text y="2530.10" font-family="'Liberation Sans', sans-serif" font-size="59.5" font-weight="normal"><tspan x="1718.12" textLength="99.27" lengthAdjust="spacingAndGlyphs">301</tspan></text>
<text transform="translate(79.00 0) rotate(-90)" y="0" font-family="'Liberation Sans', sans-serif" font-size="58.5" font-weight="bold"><tspan x="-2337.58" textLength="167.77" lengthAdjust="spacingAndGlyphs">Speed</tspan> <tspan x="-2153.76" textLength="189.31" lengthAdjust="spacingAndGlyphs">(km/h)</tspan></text>
<text y="2597.10" font-family="'Liberation Sans', sans-serif" font-size="58" font-weight="bold"><tspan x="877.17" textLength="220.35" lengthAdjust="spacingAndGlyphs">Position</tspan> <tspan x="1113.54" textLength="124.89" lengthAdjust="spacingAndGlyphs">(km)</tspan></text>
<text y="2887.10" font-family="'Liberation Serif', serif" font-size="86"><tspan x="963.35" textLength="26.25" lengthAdjust="spacingAndGlyphs" font-weight="normal">(</tspan><tspan x="991.06" textLength="35.97" lengthAdjust="spacingAndGlyphs" font-weight="bold">c</tspan><tspan x="1027.70" textLength="25.49" lengthAdjust="spacingAndGlyphs" font-weight="normal">)</tspan></text>
<rect x="82.5" y="2617.5" width="1874" height="148" fill="none" stroke="#000" stroke-width="3"/>
<line x1="173.2" y1="2655.2" x2="241.7" y2="2655.2" stroke="#FF0000" stroke-width="4.8" stroke-dasharray="13.5 15.45" stroke-linecap="round"/>
<rect x="200.1" y="2720.7" width="16.1" height="16.3" fill="#7030A0"/>
<line x1="1108.3" y1="2655.2" x2="1180.8" y2="2655.2" stroke="#4472C4" stroke-width="4.8"/>
<line x1="1108.3" y1="2728.5" x2="1180.8" y2="2728.5" stroke="#000" stroke-width="4.8"/>
<text y="2672.80" font-family="'Liberation Sans', sans-serif" font-size="59.5" font-weight="normal"><tspan x="250.20" textLength="160.91" lengthAdjust="spacingAndGlyphs">Speed</tspan> <tspan x="425.42" textLength="111.54" lengthAdjust="spacingAndGlyphs">limit</tspan></text>
<text y="2746.40" font-family="'Liberation Sans', sans-serif" font-size="59.5" font-weight="normal"><tspan x="250.67" textLength="194.78" lengthAdjust="spacingAndGlyphs">Neutral</tspan> <tspan x="461.09" textLength="208.60" lengthAdjust="spacingAndGlyphs">sections</tspan></text>
<text y="2672.80" font-family="'Liberation Sans', sans-serif" font-size="59.5" font-weight="normal"><tspan x="1188.22" textLength="159.56" lengthAdjust="spacingAndGlyphs">Speed</tspan> <tspan x="1361.83" textLength="166.44" lengthAdjust="spacingAndGlyphs">profile</tspan></text>
<text y="2746.40" font-family="'Liberation Sans', sans-serif" font-size="59.5" font-weight="normal"><tspan x="1187.87" textLength="335.56" lengthAdjust="spacingAndGlyphs">Intermediate</tspan> <tspan x="1538.38" textLength="163.65" lengthAdjust="spacingAndGlyphs">timing</tspan> <tspan x="1716.01" textLength="159.90" lengthAdjust="spacingAndGlyphs">points</tspan></text>
</svg>
</body></html>
